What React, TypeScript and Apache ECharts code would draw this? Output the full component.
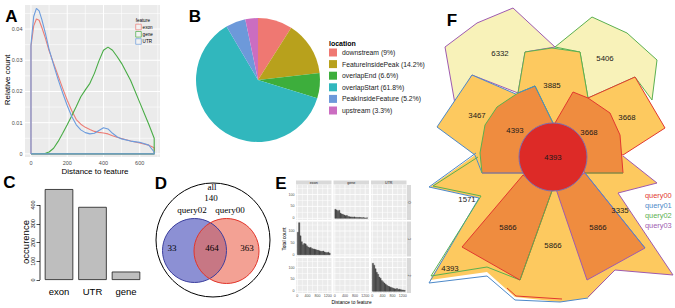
import React, { useEffect, useRef } from "react";
import * as echarts from "echarts";

const SANS = "Liberation Sans, Arial, sans-serif";
const SERIF = "Liberation Serif, Times New Roman, serif";

// ---------------- Panel A : density ----------------
const densX = [0, 15, 30, 45, 60, 80, 100, 125, 150, 175, 200, 225, 250, 275, 300, 325, 350, 375, 400, 425, 450, 475, 500, 550, 600, 650, 680];
const densExon = [0.0345, 0.041, 0.0432, 0.0428, 0.0405, 0.037, 0.033, 0.029, 0.025, 0.021, 0.0172, 0.0138, 0.011, 0.0095, 0.0085, 0.0078, 0.0072, 0.0069, 0.0067, 0.0064, 0.0058, 0.0053, 0.0049, 0.0041, 0.0035, 0.0028, 0.002];
const densGene = [0, 0, 0, 0, 0.0001, 0.0002, 0.0006, 0.0018, 0.004, 0.0066, 0.0093, 0.0122, 0.0152, 0.0183, 0.0205, 0.0226, 0.0258, 0.0298, 0.0332, 0.0342, 0.0332, 0.0312, 0.029, 0.0235, 0.0165, 0.0095, 0.005];
const densUTR = [0.035, 0.044, 0.0466, 0.0458, 0.043, 0.0385, 0.0335, 0.0285, 0.0238, 0.0195, 0.0155, 0.012, 0.0093, 0.0077, 0.0068, 0.0064, 0.0066, 0.0075, 0.0084, 0.008, 0.0066, 0.0055, 0.0048, 0.0041, 0.0037, 0.0028, 0.0006];
const featureNames = ["exon", "gene", "UTR"];
const densXTicks = [0, 200, 400, 600];
const densXMinor = [100, 300, 500, 700];
const densYTicks = [0, 0.01, 0.02, 0.03, 0.04];
const densYMinor = [0.005, 0.015, 0.025, 0.035, 0.045];

// ---------------- Panel B : pie ----------------
const locNames = ["downstream (9%)", "FeatureInsidePeak (14.2%)", "overlapEnd (6.6%)", "overlapStart (61.8%)", "PeakInsideFeature (5.2%)", "upstream (3.3%)"];
const locValues = [9, 14.2, 6.6, 61.8, 5.2, 3.3];

// ---------------- Panel C : bars ----------------
const occCategories = ["exon", "UTR", "gene"];
const occValues = [485, 390, 45];
const occTicks = [0, 100, 200, 300, 400];

// ---------------- Panel D : venn ----------------
const vennTitle = "all";
const vennSetNames = ["query02", "query00"];
const vennCounts = ["140", "33", "464", "363"];

// ---------------- Panel E : facetted histograms ----------------
const facetCols = ["exon", "gene", "UTR"];
const facetRows = ["0", "1", "2"];
const histBinWidth = 50;
const histExon = [95, 135, 80, 55, 42, 48, 46, 38, 33, 30, 31, 27, 25, 24, 22, 20, 19, 17, 15, 14, 16, 12, 10, 9, 11, 7];
const histGene = [38, 35, 30, 34, 22, 18, 16, 14, 11, 12, 8, 7, 6, 6, 5, 6, 4, 4, 3, 4, 3, 2, 3, 2, 1, 2];
const histUTR = [118, 110, 95, 80, 72, 60, 55, 45, 40, 35, 30, 26, 22, 20, 17, 15, 13, 11, 10, 12, 8, 9, 7, 6, 5, 4];
const histXTicks = [0, 400, 800, 1200];
const histXMinor = [200, 600, 1000];
const histYTicks = [0, 50, 100];
const histYMinor = [25, 75, 125];

// ---------------- Panel F : flower venn ----------------
const fSetNames = ["query00", "query01", "query02", "query03"];
const fCounts = ["6332", "5406", "3885", "3467", "4393", "3668", "3668", "4393", "1571", "3335", "5866", "5866", "5866", "4393"];

// ---------------- styles / layout ----------------
const featureColors = ["#EC7D76", "#48AC45", "#6C9CDD"];
const locColors = ["#EF7872", "#B8A11C", "#3DAE3C", "#31B7BD", "#6D99DA", "#CB6DC1"];
const fSetColors = ["#E2382F", "#4D89C9", "#5BB050", "#9E5AB0"];

const gridAPos = { left: 25, top: 5, width: 135, height: 152 };
const gridCPos = { left: 42.25, top: 182.5, width: 100.5, height: 97.5 };
const eColLeft = [296, 333.5, 371];
const eColW = 35.5;
const eRowTop = [185, 221.5, 258];
const eRowH = 35;
const ePadL = 1.3;

const FY1 = "#F8F2B9", FY2 = "#FDC95F", FO3 = "#EF8C3F", FR4 = "#DD2A27";
const [cRed, cBlue, cGreen, cPurple] = fSetColors;

const fLayout: any[] = [
  { k: "g", fill: FY2, stroke: null, p: [[475, 155], [430, 187], [480, 198], [430, 280], [487, 272], [515, 297], [560, 302], [588, 298], [615, 270], [673, 275], [618, 193], [657, 183], [623, 156], [600, 150], [585, 173], [555, 190], [523, 173], [482, 173]] },
  { k: "g", fill: FY1, stroke: cPurple, p: [[445, 47], [477, 23], [513, 8], [555, 47], [525, 52], [518, 93], [472, 75], [455, 104]] },
  { k: "g", fill: FY1, stroke: cGreen, p: [[555, 47], [592, 17], [627, 33], [657, 60], [652, 100], [635, 77], [588, 98], [580, 52]] },
  { k: "g", fill: FY2, stroke: cGreen, p: [[525, 52], [552, 48], [580, 52], [588, 98], [576, 122], [553, 124], [532, 120], [518, 93]] },
  { k: "g", fill: FY2, stroke: cBlue, p: [[437, 127], [472, 75], [518, 95], [535, 86], [525, 140], [482, 173], [475, 155]] },
  { k: "g", fill: FY2, stroke: cRed, p: [[588, 98], [635, 77], [665, 128], [623, 155], [600, 150], [585, 140]] },
  { k: "l", stroke: cBlue, p: [[476, 153], [429, 187], [479, 198], [429, 283], [487, 276], [515, 300], [560, 302], [588, 298]] },
  { k: "l", stroke: cGreen, p: [[478, 157], [433, 186], [481, 196], [431, 276], [487, 267], [520, 280]] },
  { k: "l", stroke: cPurple, p: [[588, 297], [615, 270], [673, 275], [618, 193], [657, 183], [623, 156]] },
  { k: "l", stroke: cRed, p: [[507, 288], [516, 296], [562, 299]] },
  { k: "g", fill: FO3, stroke: cGreen, p: [[482, 173], [480, 153], [485, 125], [497, 107], [518, 93], [535, 86], [553, 123], [535, 140], [524, 173]] },
  { k: "l", stroke: cBlue, p: [[518, 93], [535, 86], [553, 123]] },
  { k: "l", stroke: cPurple, p: [[482, 173], [524, 173]] },
  { k: "g", fill: FO3, stroke: cRed, p: [[555, 123], [573, 92], [588, 98], [610, 113], [620, 135], [623, 173], [585, 173], [570, 150]] },
  { k: "l", stroke: cGreen, p: [[585, 173], [623, 173]] },
  { k: "g", fill: FO3, stroke: cRed, p: [[523, 175], [462, 247], [520, 280], [553, 188], [540, 185]] },
  { k: "l", stroke: cGreen, p: [[520, 280], [553, 188]] },
  { k: "g", fill: FO3, stroke: cPurple, p: [[555, 186], [585, 173], [645, 248], [587, 280]] },
  { k: "l", stroke: cBlue, p: [[585, 173], [645, 248]] },
  { k: "c", c: [553, 157], r: 34, fill: FR4, stroke: "#7B6FB0" },
];
const fLabelPos = [[500, 53], [605, 58], [552, 85], [477, 115], [515, 130], [589, 132], [627, 117], [553, 157], [467, 199], [620, 210], [508, 227], [598, 227], [553, 245], [450, 268]];

const vennLayout: any[] = [
  { c: [213, 240], r: 57, fill: "#FFFFFF", stroke: "#000000" },
  { c: [194.5, 250.5], r: 32, fill: "#8C90D4", stroke: null },
  { c: [226.5, 251], r: 32.5, fill: "rgba(236,104,82,0.62)", stroke: null },
  { c: [194.5, 250.5], r: 32, fill: null, stroke: "#3C3F9E" },
  { c: [226.5, 251], r: 32.5, fill: null, stroke: "#E2352B" },
];
const vennLabelPos = [[212, 187], [211, 198], [192, 210], [230, 210], [172, 248], [212, 248], [247, 248]];

function fmtFrom(vals: number[], f: (v: number) => string) {
  return (v: number) => {
    const m = vals.find((t) => Math.abs(t - v) < 1e-7);
    return m === undefined ? "" : f(m);
  };
}

function gText(x: number, y: number, text: string, size: number, o: any = {}) {
  const align = o.align || "center";
  return {
    type: "text", x, y, z: 50, silent: true, rotation: o.rot || 0,
    style: {
      text, fontSize: size, fontFamily: o.family || SANS, fontWeight: o.weight || "normal",
      fill: o.color || "#000", align, verticalAlign: "middle", textAlign: align, textVerticalAlign: "middle",
    },
  };
}

function panelBg(gi: number, xMaj: number[], xMin: number[], yMaj: number[], yMin: number[], padL: number, wMaj: number, wMin: number) {
  return {
    type: "custom", xAxisIndex: gi, yAxisIndex: gi, silent: true, z: 1, clip: false,
    data: [[xMaj[0], yMaj[0]]],
    renderItem: (params: any, api: any) => {
      const cs = params.coordSys;
      const x0 = cs.x - padL, x1 = cs.x + cs.width, y0 = cs.y, y1 = cs.y + cs.height;
      const ch: any[] = [{ type: "rect", shape: { x: x0, y: y0, width: x1 - x0, height: y1 - y0 }, style: { fill: "#EBEBEB" } }];
      const v = (val: number, w: number) => {
        const px = api.coord([val, yMaj[0]])[0];
        ch.push({ type: "line", shape: { x1: px, y1: y0, x2: px, y2: y1 }, style: { stroke: "#FFFFFF", lineWidth: w } });
      };
      const h = (val: number, w: number) => {
        const py = api.coord([xMaj[0], val])[1];
        ch.push({ type: "line", shape: { x1: x0, y1: py, x2: x1, y2: py }, style: { stroke: "#FFFFFF", lineWidth: w } });
      };
      xMin.forEach((t) => v(t, wMin));
      yMin.forEach((t) => h(t, wMin));
      xMaj.forEach((t) => v(t, wMaj));
      yMaj.forEach((t) => h(t, wMaj));
      return { type: "group", children: ch };
    },
  };
}

function histSeries(gi: number, counts: number[]) {
  return {
    type: "custom", xAxisIndex: gi, yAxisIndex: gi, silent: true, z: 3,
    data: counts.map((c, i) => [i * histBinWidth, c]),
    renderItem: (params: any, api: any) => {
      const x0 = api.value(0), c = api.value(1);
      const p1 = api.coord([x0, c]);
      const p2 = api.coord([x0 + histBinWidth, 0]);
      return {
        type: "rect",
        shape: { x: p1[0], y: p1[1], width: p2[0] - p1[0], height: p2[1] - p1[1] },
        style: { fill: "#474747", stroke: "#474747", lineWidth: 0.35 },
      };
    },
  };
}

function buildOption() {
  const grids: any[] = [];
  const xAxes: any[] = [];
  const yAxes: any[] = [];
  const series: any[] = [];
  const graphic: any[] = [];
  const tickStyle = { color: "#333333", width: 0.6 };

  // --- A ---
  grids.push({ ...gridAPos, show: false, outerBoundsMode: "none" });
  xAxes.push({
    gridIndex: 0, type: "value", min: -33, max: 712, splitLine: { show: false }, axisLine: { show: false },
    axisTick: { show: true, length: 1.8, customValues: densXTicks, lineStyle: tickStyle },
    axisLabel: { customValues: densXTicks, fontSize: 5.5, color: "#4D4D4D", margin: 2.5, fontFamily: SANS, formatter: fmtFrom(densXTicks, (v) => String(v)) },
  });
  yAxes.push({
    gridIndex: 0, type: "value", min: -0.001, max: 0.0477, splitLine: { show: false }, axisLine: { show: false },
    axisTick: { show: true, length: 1.8, customValues: densYTicks, lineStyle: tickStyle },
    axisLabel: { customValues: densYTicks, fontSize: 5.5, color: "#4D4D4D", margin: 2.5, fontFamily: SANS, formatter: fmtFrom(densYTicks, (v) => (v === 0 ? "0" : v.toFixed(2))) },
  });
  series.push(panelBg(0, densXTicks, densXMinor, densYTicks, densYMinor, 0, 1, 0.6));
  [densExon, densGene, densUTR].forEach((ys, i) => {
    const last = densX[densX.length - 1];
    series.push({
      type: "line", name: featureNames[i], xAxisIndex: 0, yAxisIndex: 0, symbol: "none", showSymbol: false, silent: true, z: 3,
      lineStyle: { color: featureColors[i], width: 1.1 }, itemStyle: { color: featureColors[i] },
      data: [[densX[0], 0], ...densX.map((x, j) => [x, ys[j]]), [last, 0], [densX[0], 0]],
    });
  });

  // --- C ---
  grids.push({ ...gridCPos, show: false, outerBoundsMode: "none" });
  xAxes.push({
    gridIndex: 1, type: "category", data: occCategories, axisLine: { show: false }, axisTick: { show: false }, splitLine: { show: false },
    axisLabel: { fontSize: 9.5, color: "#000", margin: 6, fontFamily: SANS },
  });
  yAxes.push({
    gridIndex: 1, type: "value", min: 0, max: 520, interval: 100, offset: 2.25, splitLine: { show: false }, axisLine: { show: false },
    axisTick: { show: true, length: 3.5, customValues: occTicks, lineStyle: { color: "#000", width: 0.7 } },
    axisLabel: { customValues: occTicks, rotate: 90, fontSize: 5.5, margin: 4.5, color: "#000", fontFamily: SANS, formatter: fmtFrom(occTicks, (v) => String(v)) },
  });
  series.push({
    type: "custom", xAxisIndex: 1, yAxisIndex: 1, silent: true, z: 3, clip: false, data: [[0, 0]],
    renderItem: (params: any, api: any) => {
      const cs = params.coordSys;
      const x = cs.x - 2.25;
      const y0 = api.coord([0, occTicks[0]])[1];
      const y1 = api.coord([0, occTicks[occTicks.length - 1]])[1];
      return { type: "line", shape: { x1: x, y1: y0, x2: x, y2: y1 }, style: { stroke: "#000", lineWidth: 0.8 } };
    },
  });
  series.push({
    type: "bar", xAxisIndex: 1, yAxisIndex: 1, data: occValues, barWidth: 28.5, silent: true,
    itemStyle: { color: "#BEBEBE", borderColor: "#1A1A1A", borderWidth: 0.8 },
  });

  // --- E ---
  const histMap: Record<string, number[]> = { "0-1": histGene, "1-0": histExon, "2-2": histUTR };
  const eXMax = (eColW - ePadL) / 0.02535;
  for (let r = 0; r < 3; r++) {
    for (let c = 0; c < 3; c++) {
      const gi = grids.length;
      grids.push({ left: eColLeft[c] + ePadL, top: eRowTop[r], width: eColW - ePadL, height: eRowH, show: false, outerBoundsMode: "none" });
      xAxes.push({
        gridIndex: gi, type: "value", min: 0, max: eXMax, interval: 400, splitLine: { show: false }, axisLine: { show: false },
        axisTick: { show: r === 2, length: 1.2, customValues: histXTicks, lineStyle: { color: "#333", width: 0.4 } },
        axisLabel: { show: r === 2, customValues: histXTicks, fontSize: 3.6, color: "#4D4D4D", margin: 1.4, fontFamily: SANS, formatter: fmtFrom(histXTicks, (v) => String(v)) },
      });
      yAxes.push({
        gridIndex: gi, type: "value", min: -7, max: 140, offset: ePadL, splitLine: { show: false }, axisLine: { show: false },
        axisTick: { show: c === 0, length: 1.2, customValues: histYTicks, lineStyle: { color: "#333", width: 0.4 } },
        axisLabel: { show: c === 0, customValues: histYTicks, fontSize: 3.6, color: "#4D4D4D", margin: 1.4, fontFamily: SANS, formatter: fmtFrom(histYTicks, (v) => String(v)) },
      });
      series.push(panelBg(gi, histXTicks, histXMinor, histYTicks, histYMinor, ePadL, 0.8, 0.5));
      const h = histMap[r + "-" + c];
      if (h) series.push(histSeries(gi, h));
    }
  }

  // --- master overlay grid for D and F ---
  const mg = grids.length;
  grids.push({ left: 0, top: 0, width: 675, height: 308, show: false, outerBoundsMode: "none" });
  xAxes.push({ gridIndex: mg, type: "value", min: 0, max: 675, show: false });
  yAxes.push({ gridIndex: mg, type: "value", min: 0, max: 308, inverse: true, show: false });

  const shapeRender = (layout: any[]) => (params: any, api: any) => {
    const s = layout[params.dataIndex];
    const pt = (p: number[]) => api.coord(p);
    if (s.k === "l") {
      return { type: "polyline", shape: { points: s.p.map(pt) }, style: { fill: null, stroke: s.stroke, lineWidth: 1, lineJoin: "round" } };
    }
    if (s.k === "g") {
      return { type: "polygon", shape: { points: s.p.map(pt) }, style: { fill: s.fill, stroke: s.stroke, lineWidth: s.stroke ? 1 : 0, lineJoin: "round" } };
    }
    const cc = pt(s.c);
    const rr = Math.abs(api.size([s.r, s.r])[0]);
    return { type: "circle", shape: { cx: cc[0], cy: cc[1], r: rr }, style: { fill: s.fill, stroke: s.stroke, lineWidth: s.stroke ? 1 : 0 } };
  };

  // D shapes
  series.push({
    type: "custom", xAxisIndex: mg, yAxisIndex: mg, silent: true, z: 2, clip: false,
    data: vennLayout.map(() => [0, 0]), renderItem: shapeRender(vennLayout.map((v) => ({ k: "c", ...v }))),
  });
  // F shapes
  series.push({
    type: "custom", xAxisIndex: mg, yAxisIndex: mg, silent: true, z: 2, clip: false,
    data: fLayout.map(() => [0, 0]), renderItem: shapeRender(fLayout),
  });
  // D labels
  const vennTexts = [vennTitle, vennCounts[0], vennSetNames[0], vennSetNames[1], vennCounts[1], vennCounts[2], vennCounts[3]];
  series.push({
    type: "custom", xAxisIndex: mg, yAxisIndex: mg, silent: true, z: 4, clip: false,
    data: vennLabelPos.map((p) => p),
    renderItem: (params: any, api: any) => {
      const p = api.coord([api.value(0), api.value(1)]);
      return { type: "text", x: p[0], y: p[1], style: { text: vennTexts[params.dataIndex], fontSize: 9, fontFamily: SERIF, fill: "#000", align: "center", verticalAlign: "middle", textAlign: "center", textVerticalAlign: "middle" } };
    },
  });
  // F labels
  series.push({
    type: "custom", xAxisIndex: mg, yAxisIndex: mg, silent: true, z: 4, clip: false,
    data: fLabelPos.map((p) => p),
    renderItem: (params: any, api: any) => {
      const p = api.coord([api.value(0), api.value(1)]);
      return { type: "text", x: p[0], y: p[1], style: { text: fCounts[params.dataIndex], fontSize: 7.8, fontFamily: SANS, fill: "#1A1A1A", align: "center", verticalAlign: "middle", textAlign: "center", textVerticalAlign: "middle" } };
    },
  });

  // --- B pie ---
  series.push({
    type: "pie", center: [258, 80], radius: 62, startAngle: 90, clockwise: true, silent: true,
    label: { show: false }, labelLine: { show: false }, itemStyle: { borderWidth: 0 },
    data: locNames.map((n, i) => ({ name: n, value: locValues[i], itemStyle: { color: locColors[i] } })),
  });

  // --- graphic texts ---
  const letters: [string, number, number][] = [["A", 11.5, 16], ["B", 195, 16], ["C", 9.5, 182.5], ["D", 161, 183], ["E", 281, 183], ["F", 452, 20]];
  letters.forEach(([t, x, y]) => graphic.push(gText(x, y, t, 17, { weight: "bold" })));
  graphic.push(gText(7.5, 80, "Relative count", 8, { rot: Math.PI / 2 }));
  graphic.push(gText(95, 171.5, "Distance to feature", 8));
  graphic.push(gText(135.7, 20.5, "feature", 4.6, { align: "left" }));
  const legYs = [27, 34.3, 41.5];
  featureNames.forEach((n, i) => {
    graphic.push({ type: "rect", z: 50, silent: true, shape: { x: 135.7, y: legYs[i] - 2.8, width: 5.6, height: 5.6 }, style: { fill: "#F2F2F2", stroke: featureColors[i], lineWidth: 0.7 } });
    graphic.push(gText(142.6, legYs[i], n, 4.6, { align: "left" }));
  });
  graphic.push(gText(329, 43.5, "location", 7, { align: "left", weight: "bold" }));
  graphic.push(gText(25, 242, "occurence", 9.5, { rot: Math.PI / 2 }));
  facetCols.forEach((n, c) => {
    graphic.push({ type: "rect", z: 50, silent: true, shape: { x: eColLeft[c], y: 180.6, width: eColW, height: 4 }, style: { fill: "#D9D9D9" } });
    graphic.push(gText(eColLeft[c] + eColW / 2, 182.7, n, 3.6, { color: "#1A1A1A" }));
  });
  facetRows.forEach((n, r) => {
    graphic.push({ type: "rect", z: 50, silent: true, shape: { x: 407, y: eRowTop[r], width: 4, height: eRowH }, style: { fill: "#D9D9D9" } });
    graphic.push(gText(409, eRowTop[r] + eRowH / 2, n, 3.6, { color: "#1A1A1A", rot: -Math.PI / 2 }));
  });
  graphic.push(gText(284.5, 239, "Total count", 4.8, { rot: Math.PI / 2 }));
  graphic.push(gText(351.5, 302.5, "Distance to feature", 4.8));
  fSetNames.forEach((n, i) => graphic.push(gText(645, 195 + i * 10, n, 7.4, { align: "left", color: fSetColors[i] })));

  return {
    animation: false,
    backgroundColor: "#FFFFFF",
    grid: grids,
    xAxis: xAxes,
    yAxis: yAxes,
    series,
    graphic: { elements: graphic },
    legend: [
      {
        data: locNames, left: 329, top: 48.5, orient: "vertical", icon: "rect", itemWidth: 8, itemHeight: 8, itemGap: 3.6,
        padding: 0, selectedMode: false, textStyle: { fontSize: 6.8, color: "#1A1A1A", fontFamily: SANS },
      },
    ],
  };
}

export default function App() {
  const ref = useRef<HTMLDivElement>(null);
  useEffect(() => {
    document.body.style.margin = "0";
    const chart = echarts.init(ref.current as HTMLDivElement, undefined, { renderer: "svg", width: 675, height: 308 });
    chart.setOption(buildOption() as any);
    return () => chart.dispose();
  }, []);
  return <div ref={ref} style={{ width: 675, height: 308 }} />;
}
